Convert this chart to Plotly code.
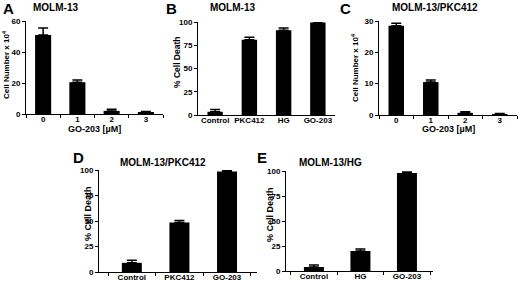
import plotly.graph_objects as go

W, H = 520, 285

# ---- data ----
a_cats = ["0", "1", "2", "3"]
a_vals = [51, 20.5, 2, 1]
a_err = [4.5, 1.5, 1, 0.6]

b_cats = ["Control", "PKC412", "HG", "GO-203"]
b_vals = [3.5, 81, 91, 99.5]
b_err = [2.5, 2.5, 2.5, 1]

c_cats = ["0", "1", "2", "3"]
c_vals = [28.5, 10.5, 0.7, 0.3]
c_err = [0.8, 0.7, 0.3, 0.2]

d_cats = ["Control", "PKC412", "GO-203"]
d_vals = [9, 48.5, 98.5]
d_err = [2.5, 2, 1]

e_cats = ["Control", "HG", "GO-203"]
e_vals = [4, 20, 98]
e_err = [2, 2, 1]

FONT = "Liberation Sans, Arial, Helvetica, sans-serif"

fig = go.Figure()

panels = [
    # cats, vals, err, xpix (left,right), ypix (top,bottom), ymax, dtick, xrange, barwidth, boundary ticks
    (a_cats, a_vals, a_err, (26, 163), (21, 114), 60, 20, [-0.5, 3.5], 0.47, True),
    (b_cats, b_vals, b_err, (198, 335), (22, 115), 100, 25, [-0.5, 3.5], 0.45, False),
    (c_cats, c_vals, c_err, (379, 517), (21, 115), 30, 10, [-0.5, 3.5], 0.45, True),
    (d_cats, d_vals, d_err, (99, 257), (170, 272), 100, 25, [-0.69, 2.63], 0.42, True),
    (e_cats, e_vals, e_err, (286, 433), (171, 271), 100, 25, [-0.6, 2.56], 0.43, True),
]

for i, (cats, vals, err, xp, yp, ymax, dt, xr, bw, bt) in enumerate(panels):
    n = "" if i == 0 else str(i + 1)
    fig.add_trace(go.Bar(
        x=cats, y=vals, width=bw,
        marker=dict(color="black", line=dict(width=0)),
        error_y=dict(type="data", array=err, arrayminus=[0] * len(err),
                     symmetric=False, color="black", thickness=1.5, width=5),
        xaxis="x" + n, yaxis="y" + n, showlegend=False, hoverinfo="skip",
    ))
    fig.layout["xaxis" + n] = dict(
        domain=[xp[0] / W, xp[1] / W], anchor="y" + n, type="category",
        range=xr, showline=True, linecolor="black", linewidth=1,
        ticks="outside" if bt else "", tickson="boundaries", ticklen=3, tickcolor="black",
        showgrid=False, zeroline=False, automargin=False, tickangle=0,
        ticklabelstandoff=-3,
        tickfont=dict(family=FONT, size=8, color="black", weight="bold"),
    )
    fig.layout["yaxis" + n] = dict(
        domain=[(H - yp[1]) / H, (H - yp[0]) / H], anchor="x" + n,
        range=[0, ymax], dtick=dt, tick0=0, showline=True, linecolor="black",
        linewidth=1, ticks="outside", ticklen=3, tickcolor="black",
        showgrid=False, zeroline=False, automargin=False,
        tickfont=dict(family=FONT, size=8, color="black", weight="bold"),
    )

ann = []
def txt(x, y, s, size, angle=0):
    ann.append(dict(x=x / W, y=1 - y / H, xref="paper", yref="paper", text=s,
                    showarrow=False, textangle=angle, xanchor="center", yanchor="middle",
                    font=dict(family=FONT, size=size, color="black", weight="bold")))

# panel letters
txt(8, 9, "A", 15)
txt(171, 9, "B", 15)
txt(345, 9, "C", 15)
txt(78, 157, "D", 15)
txt(262, 158, "E", 15)

# panel titles
txt(55, 8, "MOLM-13", 10)
txt(232, 8, "MOLM-13", 10)
txt(435, 8, "MOLM-13/PKC412", 10)
txt(163, 162, "MOLM-13/PKC412", 10)
txt(330, 162, "MOLM-13/HG", 10)

# y titles
txt(6, 65, "Cell Number x 10<sup>4</sup>", 8, -90)
txt(177, 62, "% Cell Death", 8.5, -90)
txt(355, 68, "Cell Number x 10<sup>4</sup>", 8, -90)
txt(88, 214, "% Cell Death", 9, -90)
txt(270, 215, "% Cell Death", 9, -90)

# x titles
txt(94, 129, "GO-203 [µM]", 9)
txt(448, 129, "GO-203 [µM]", 9)

fig.update_layout(
    template="none",
    width=W, height=H, margin=dict(l=0, r=0, t=0, b=0),
    paper_bgcolor="white", plot_bgcolor="white",
    annotations=ann, bargap=0.5,
)

fig.write_html(
    "out.html",
    config={"displayModeBar": False},
    post_script="document.body.style.margin='0';document.body.style.overflow='hidden';",
)
